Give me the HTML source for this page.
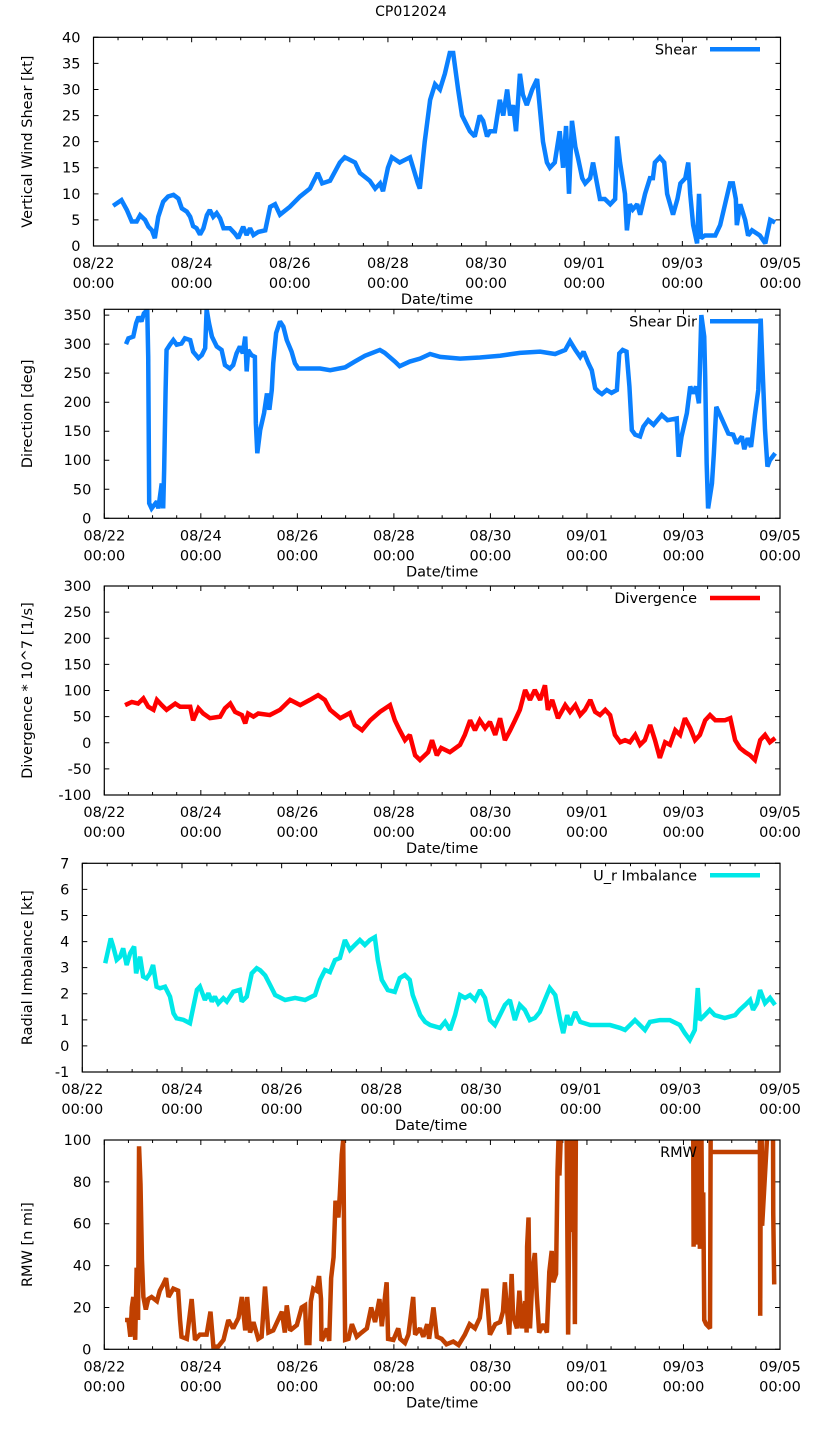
<!DOCTYPE html>
<html><head><meta charset="utf-8"><title>CP012024</title>
<style>
html,body{margin:0;padding:0;background:#fff;}
svg{display:block;font-family:"DejaVu Sans","Liberation Sans",sans-serif;}
</style></head>
<body>
<svg id="fig" width="822" height="1440" viewBox="0 0 822 1440" xmlns="http://www.w3.org/2000/svg">
<rect width="822" height="1440" fill="#fff"/>
<text x="411" y="16" font-size="14" text-anchor="middle">CP012024</text>
</svg>
<script>
// ---- shared x axis ----
const xTickLabels = ["08/22","08/24","08/26","08/28","08/30","09/01","09/03","09/05"];
const xDays = 14;

// ---- Panel 1: Shear ----
const shearT = [0.40,0.57,0.68,0.78,0.88,0.95,1.05,1.12,1.19,1.25,1.32,1.42,1.52,1.63,1.73,1.80,1.90,1.97,2.03,2.10,2.17,2.24,2.31,2.37,2.44,2.51,2.58,2.65,2.78,2.88,2.95,3.05,3.12,3.19,3.26,3.36,3.50,3.60,3.70,3.80,4.00,4.21,4.41,4.57,4.66,4.82,5.02,5.12,5.33,5.43,5.63,5.74,5.84,5.90,6.00,6.08,6.24,6.45,6.61,6.65,6.75,6.86,6.96,7.06,7.16,7.26,7.33,7.43,7.51,7.67,7.77,7.87,7.94,8.02,8.08,8.18,8.28,8.35,8.43,8.49,8.55,8.61,8.69,8.75,8.83,8.94,9.04,9.10,9.16,9.24,9.30,9.40,9.50,9.57,9.63,9.69,9.75,9.82,9.87,9.96,10.02,10.12,10.18,10.24,10.32,10.42,10.53,10.63,10.67,10.73,10.83,10.87,10.93,10.99,11.08,11.14,11.24,11.34,11.40,11.44,11.54,11.63,11.69,11.75,11.81,11.90,11.96,12.06,12.12,12.16,12.22,12.30,12.34,12.38,12.46,12.56,12.67,12.77,12.87,12.97,13.03,13.09,13.11,13.18,13.28,13.34,13.42,13.58,13.69,13.79,13.89];
const shearV = [7.7,8.8,6.9,4.7,4.7,5.9,5.0,3.7,3.0,1.5,5.6,8.5,9.5,9.8,9.1,7.2,6.6,5.6,3.8,3.4,2.2,3.4,5.9,6.9,5.6,6.3,5.3,3.4,3.4,2.4,1.5,3.7,2.1,3.4,2.1,2.7,3,7.5,8,6,7.5,9.5,11,14,12,12.5,16,17,16,14,12.5,11,12,10.5,15,17,16,17,12,11,20,28,31,30,33,37,37,30,25,22,21,25,24,21,22,22,28,25,30,25,27,22,33,29,27,30,32,26,20,16,15,16,22,15,23,10,24,19,17,13,12,13,16,13,9,9,8,9,21,16,10,3,8,7,8,6,10,13,13,16,17,16,10,8,6,9,12,13,16,10,4,0.5,10,1.5,2,2,2,4,8,12,12,9,4,8,5,2,3,2,0.5,5,4.5];
const shearTicks = [0,5,10,15,20,25,30,35,40];

// ---- Panel 2: Shear direction ----
const dirT = [0.45,0.50,0.60,0.66,0.71,0.77,0.82,0.89,0.91,0.93,0.98,1.09,1.12,1.19,1.22,1.24,1.27,1.29,1.36,1.43,1.50,1.60,1.67,1.78,1.84,1.95,2.02,2.09,2.12,2.17,2.23,2.33,2.43,2.50,2.60,2.67,2.74,2.81,2.87,2.92,2.95,2.98,3.05,3.12,3.14,3.17,3.23,3.31,3.37,3.42,3.47,3.50,3.56,3.64,3.71,3.78,3.88,3.95,4.02,4.47,4.68,4.99,5.19,5.40,5.71,5.81,6.02,6.12,6.33,6.54,6.75,6.96,7.37,7.78,8.20,8.61,9.03,9.34,9.55,9.65,9.76,9.86,9.93,10.03,10.10,10.17,10.24,10.31,10.41,10.51,10.62,10.67,10.74,10.82,10.88,10.93,11.00,11.10,11.17,11.27,11.38,11.55,11.67,11.86,11.90,11.96,12.07,12.14,12.20,12.26,12.32,12.37,12.43,12.45,12.48,12.51,12.59,12.63,12.68,12.79,12.93,13.03,13.10,13.21,13.26,13.33,13.40,13.48,13.55,13.60,13.64,13.69,13.74,13.79,13.90];
const dirV = [300,310,313,336,347,339,353,359,278,26,17,29,17,60,17,83,221,290,299,307,299,301,310,307,287,276,281,293,360,336,313,296,290,264,258,264,284,296,284,313,253,290,281,278,164,112,152,181,215,187,221,267,319,339,330,307,287,267,258,258,255,260,270,280,290,285,270,262,270,275,283,278,275,277,280,285,287,283,290,305,290,278,287,267,255,224,218,214,221,216,221,284,290,287,227,152,144,141,158,169,161,178,169,172,106,141,181,227,215,227,198,350,313,244,95,17,60,112,192,172,146,144,129,141,119,138,123,178,221,344,255,152,89,100,112];
const dirTicks = [0,50,100,150,200,250,300,350];

// ---- Panel 3: Divergence ----
const divT = [0.43,0.57,0.70,0.81,0.91,1.02,1.09,1.19,1.29,1.47,1.57,1.78,1.84,1.95,2.05,2.19,2.40,2.50,2.61,2.71,2.85,2.92,2.98,3.09,3.19,3.43,3.64,3.85,4.06,4.26,4.43,4.57,4.68,4.89,5.09,5.19,5.34,5.51,5.71,5.92,6.02,6.12,6.23,6.33,6.44,6.54,6.71,6.79,6.89,6.98,7.16,7.37,7.47,7.58,7.68,7.78,7.89,7.99,8.10,8.20,8.30,8.41,8.51,8.61,8.72,8.82,8.92,9.03,9.13,9.19,9.28,9.40,9.55,9.65,9.76,9.86,9.96,10.07,10.17,10.27,10.38,10.48,10.58,10.69,10.79,10.89,11.00,11.10,11.20,11.31,11.41,11.51,11.62,11.72,11.83,11.93,12.03,12.14,12.24,12.34,12.45,12.55,12.66,12.86,12.97,13.07,13.17,13.28,13.38,13.48,13.59,13.69,13.79,13.90];
const divV = [72,78,75,85,69,63,82,72,63,75,69,69,43,66,56,47,50,66,75,59,53,37,56,50,56,53,63,82,72,82,91,82,63,47,57,34,24,43,59,72,43,24,5,15,-24,-33,-18,5,-24,-10,-18,-4,15,43,24,43,28,40,15,47,5,24,43,63,101,82,101,82,110,63,82,47,72,59,72,53,63,82,59,53,63,53,15,1,5,1,15,-4,5,34,5,-29,1,-4,24,15,47,28,5,15,43,53,43,43,47,5,-10,-18,-24,-33,5,15,1,9];
const divTicks = [-100,-50,0,50,100,150,200,250,300];

// ---- Panel 4: Radial imbalance ----
const urT = [0.46,0.52,0.57,0.62,0.69,0.76,0.82,0.89,0.96,1.04,1.08,1.16,1.22,1.29,1.36,1.42,1.49,1.56,1.66,1.76,1.83,1.89,2.03,2.16,2.23,2.30,2.36,2.46,2.53,2.60,2.66,2.73,2.83,2.90,3.03,3.16,3.20,3.30,3.40,3.50,3.57,3.67,3.77,3.87,4.07,4.27,4.47,4.67,4.77,4.87,4.97,5.07,5.17,5.27,5.37,5.47,5.57,5.67,5.77,5.87,5.93,6.01,6.13,6.27,6.37,6.47,6.57,6.63,6.78,6.88,6.98,7.18,7.28,7.38,7.48,7.58,7.68,7.78,7.88,7.98,8.08,8.18,8.28,8.38,8.48,8.58,8.68,8.78,8.88,8.98,9.08,9.18,9.28,9.38,9.49,9.59,9.65,9.73,9.79,9.89,9.99,10.19,10.39,10.59,10.79,10.89,10.99,11.09,11.19,11.29,11.39,11.59,11.79,11.99,12.09,12.19,12.29,12.35,12.39,12.49,12.59,12.69,12.89,13.10,13.19,13.30,13.40,13.46,13.54,13.60,13.70,13.80,13.90];
const urV = [3.17,3.68,4.12,3.81,3.30,3.42,3.74,3.10,3.55,3.81,2.78,3.42,2.66,2.59,2.78,3.10,2.27,2.21,2.27,1.89,1.25,1.06,1.00,0.87,1.51,2.15,2.27,1.76,2.02,1.70,1.89,1.63,1.83,1.70,2.08,2.15,1.70,1.89,2.78,2.98,2.9,2.7,2.33,1.95,1.76,1.84,1.76,1.95,2.53,2.91,2.83,3.29,3.37,4.06,3.68,3.87,4.06,3.87,4.06,4.17,3.29,2.53,2.14,2.07,2.60,2.72,2.53,1.95,1.18,0.92,0.80,0.69,0.92,0.61,1.18,1.95,1.84,1.95,1.76,2.14,1.84,0.99,0.80,1.18,1.57,1.76,0.99,1.57,1.38,0.99,1.07,1.30,1.76,2.22,1.95,0.99,0.49,1.18,0.80,1.30,0.92,0.80,0.80,0.80,0.69,0.61,0.80,0.99,0.80,0.61,0.92,0.99,0.99,0.80,0.49,0.23,0.61,2.22,0.99,1.18,1.38,1.18,1.07,1.18,1.38,1.57,1.76,1.38,1.64,2.14,1.64,1.84,1.57];
const urTicks = [-1,0,1,2,3,4,5,6,7];

// ---- Panel 5: RMW ----
const rmwT = [0.43,0.50,0.54,0.57,0.60,0.64,0.67,0.70,0.72,0.75,0.78,0.81,0.86,0.91,0.98,1.09,1.15,1.22,1.28,1.33,1.43,1.53,1.57,1.60,1.71,1.81,1.88,1.98,2.12,2.20,2.26,2.36,2.47,2.57,2.67,2.78,2.85,2.92,2.96,3.02,3.09,3.19,3.26,3.33,3.40,3.50,3.68,3.74,3.78,3.85,3.99,4.09,4.16,4.19,4.25,4.28,4.33,4.40,4.45,4.49,4.50,4.57,4.61,4.66,4.70,4.75,4.79,4.85,4.88,4.92,4.95,4.97,4.99,5.06,5.13,5.23,5.33,5.44,5.53,5.61,5.70,5.75,5.82,5.85,5.88,5.99,6.09,6.13,6.23,6.30,6.40,6.44,6.54,6.61,6.69,6.73,6.82,6.89,6.99,7.09,7.23,7.34,7.47,7.57,7.68,7.78,7.85,7.92,7.99,8.10,8.20,8.26,8.30,8.34,8.39,8.44,8.47,8.55,8.60,8.65,8.72,8.75,8.76,8.79,8.82,8.88,8.92,8.96,9.01,9.10,9.17,9.22,9.27,9.30,9.36,9.39,9.41,9.43,9.50,9.58,9.61,9.65,9.68,9.72,9.75,9.77,9.86,12.14,12.20,12.21,12.24,12.26,12.28,12.30,12.32,12.34,12.37,12.39,12.41,12.43,12.47,12.51,12.55,12.57,13.58,13.59,13.61,13.63,13.85,13.86,13.88];
const rmwV = [14,14,6,20,25,4.5,39,14,97,79,43,25,19,24,25,23,28,31,34,25,29,28,14,6,5,24,4.5,7,7,18,1.3,1.3,4.5,14,10,15,25,9,25,8,13,5,6,30,8,9,18,8,21,9,11.6,20,21,3,3,23,29,28,35,24,4,7,10,4,34,44,71,63,74,93,100,51,4.5,5,12,6,8,10,20,13,24,11,26,32,5,4.5,10,5,3,7,25,7,10,6,12,5,20,6,5,2.4,3.7,2,7,12,10,15,28,28,7,12,13,18,32,20,7,36,16,10,28,10,23,8,49,63,10,39,46,26,8,12,8,37,47,32,36,85,100,83,130,100,7,100,56,100,12,100,150,150,120,49,110,55,110,50,110,48,110,50,75,14,12,11,10,150,150,16,150,59,150,65,31];
const rmwTicks = [0,20,40,60,80,100];

const svg = document.getElementById('fig');
const NS = 'http://www.w3.org/2000/svg';
function mk(tag, attrs, parent) {
  const el = document.createElementNS(NS, tag);
  for (const k in attrs) el.setAttribute(k, attrs[k]);
  (parent || svg).appendChild(el);
  return el;
}

const panels = [
  {key:'shear', L:93.5, R:780.5, T:37.3, B:246, ymin:0, ymax:40, ticks:shearTicks, t:shearT, v:shearV, color:'#0a80ff', ylabel:'Vertical Wind Shear [kt]', legend:'Shear', legendLine:true},
  {key:'direction', L:104.3, R:780, T:309.3, B:518.3, ymin:0, ymax:360, ticks:dirTicks, t:dirT, v:dirV, color:'#0a80ff', ylabel:'Direction [deg]', legend:'Shear Dir', legendLine:true},
  {key:'divergence', L:104.3, R:780, T:586, B:795, ymin:-100, ymax:300, ticks:divTicks, t:divT, v:divV, color:'#ff0000', ylabel:'Divergence * 10^7 [1/s]', legend:'Divergence', legendLine:true},
  {key:'imbalance', L:82.3, R:780, T:863.3, B:1072, ymin:-1, ymax:7, ticks:urTicks, t:urT, v:urV, color:'#00e8e8', ylabel:'Radial Imbalance [kt]', legend:'U_r Imbalance', legendLine:true},
  {key:'rmw', L:104.3, R:780, T:1140, B:1349.3, ymin:0, ymax:100, ticks:rmwTicks, t:rmwT, v:rmwV, color:'#c04000', ylabel:'RMW [n mi]', legend:'RMW', legendLine:true}
];

panels.forEach((p, i) => {
  const g = mk('g', {});
  
  
  const xs = d => p.L + d / xDays * (p.R - p.L);
  const ys = v => p.B - (v - p.ymin) / (p.ymax - p.ymin) * (p.B - p.T);

  // clip
  const cp = mk('clipPath', {id: 'clip' + i}, g);
  mk('rect', {x:p.L, y:p.T, width:p.R - p.L, height:p.B - p.T}, cp);

  // y ticks and labels
  p.ticks.forEach(tv => {
    const y = ys(tv);
    const tk = mk('path', {d:`M${p.L},${y}h5M${p.R},${y}h-5`, stroke:'#000', 'stroke-width':1}, g);
    
    
    const lb = mk('text', {x:p.L - 13, y:y + 5, 'font-size':14.5, 'text-anchor':'end'}, g);
    
    
    lb.textContent = String(tv);
  });
  // x ticks: major every 2 days, minor every 0.5 day
  for (let k = 0; k <= xDays * 2; k++) {
    const d = k / 2;
    const x = xs(d);
    const len = (k % 4 === 0) ? 5 : 3;
    const tk = mk('path', {d:`M${x},${p.B}v${-len}M${x},${p.T}v${len}`, stroke:'#000', 'stroke-width':1}, g);
    
    
  }
  xTickLabels.forEach((lab, j) => {
    const x = xs(j * 2);
    const t1 = mk('text', {x:x, y:p.B + 22, 'font-size':14.5, 'text-anchor':'middle'}, g);
    
    
    t1.textContent = lab;
    const t2 = mk('text', {x:x, y:p.B + 42, 'font-size':14.5, 'text-anchor':'middle'}, g);
    
    
    t2.textContent = '00:00';
  });
  // axis titles
  const xt = mk('text', {x:(p.L + p.R) / 2, y:p.B + 58, 'font-size':14.5, 'text-anchor':'middle'}, g);
  
  
  xt.textContent = 'Date/time';
  const cy = (p.T + p.B) / 2;
  const yt = mk('text', {x:0, y:0, 'font-size':14.5, 'text-anchor':'middle', transform:`translate(32,${cy}) rotate(-90)`}, g);
  
  
  yt.textContent = p.ylabel;

  // series line
  let d = '';
  for (let k = 0; k < p.t.length; k++) {
    d += (k ? 'L' : 'M') + xs(p.t[k]).toFixed(2) + ',' + ys(p.v[k]).toFixed(2);
  }
  const line = mk('path', {d:d, fill:'none', stroke:p.color, 'stroke-width':4.5, 'stroke-linejoin':'miter', 'stroke-miterlimit':2, 'clip-path':`url(#clip${i})`}, g);
  
  

  // legend
  const ly = p.T + 12;
  const lt = mk('text', {x:697, y:ly + 5, 'font-size':14.5, 'text-anchor':'end'}, g);
  
  
  lt.textContent = p.legend;
  const ll = mk('path', {d:`M710,${ly}H760`, stroke:p.color, 'stroke-width':4.5}, g);
  
  

  // frame
  const fr = mk('rect', {x:p.L, y:p.T, width:p.R - p.L, height:p.B - p.T, fill:'none', stroke:'#000', 'stroke-width':1.2}, g);
  
  
});
</script>
</body></html>
